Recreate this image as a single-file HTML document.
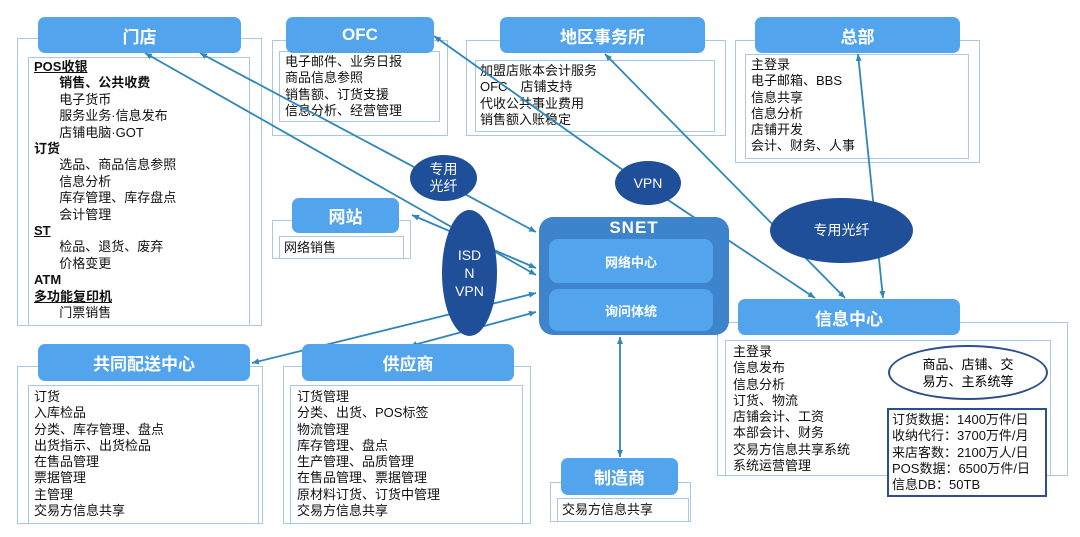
<!DOCTYPE html>
<html><head><meta charset="utf-8"><style>
body{margin:0;width:1080px;height:537px;background:#fff;position:relative;overflow:hidden;font-family:"Liberation Sans","Noto Sans CJK SC",sans-serif;}
.f{position:absolute;border:1.5px solid #a9c8e6;box-sizing:border-box;}
.h{position:absolute;background:#52a5ec;color:#fff;border-radius:7px;font-size:17px;font-weight:bold;display:flex;align-items:center;justify-content:center;}
.t{position:absolute;font-size:13px;line-height:16.3px;color:#111;white-space:nowrap;}
.e{position:absolute;background:#1f4f98;border-radius:50%;color:#fff;display:flex;align-items:center;justify-content:center;text-align:center;font-size:14px;line-height:17px;}
b{font-weight:bold}
u{text-decoration:underline}
</style></head><body>
<!-- frames -->
<div class="f" style="left:17px;top:38px;width:245px;height:288px"></div>
<div class="f" style="left:28px;top:57px;width:222px;height:269px"></div>
<div class="f" style="left:272px;top:40px;width:176px;height:96px"></div>
<div class="f" style="left:279px;top:51px;width:161px;height:71px"></div>
<div class="f" style="left:466px;top:40px;width:260px;height:96px"></div>
<div class="f" style="left:475px;top:60px;width:240px;height:72px"></div>
<div class="f" style="left:735px;top:40px;width:245px;height:123px"></div>
<div class="f" style="left:745px;top:54px;width:224px;height:105px"></div>
<div class="f" style="left:272px;top:220px;width:139px;height:39px"></div>
<div class="f" style="left:279px;top:236px;width:125px;height:23px"></div>
<div class="f" style="left:717px;top:322px;width:351px;height:154px"></div>
<div class="f" style="left:725px;top:340px;width:326px;height:136px"></div>
<div class="f" style="left:17px;top:366px;width:246px;height:158px"></div>
<div class="f" style="left:28px;top:385px;width:231px;height:139px"></div>
<div class="f" style="left:283px;top:366px;width:248px;height:158px"></div>
<div class="f" style="left:290px;top:385px;width:233px;height:139px"></div>
<div class="f" style="left:550px;top:482px;width:141px;height:40px"></div>
<div class="f" style="left:557px;top:498px;width:132px;height:24px"></div>

<div class="t" style="left:34px;top:59px;line-height:16.4px"><b><u>POS收银</u></b><br>&nbsp;&nbsp;&nbsp;&nbsp;&nbsp;&nbsp;&nbsp;<b>销售、公共收费</b><br>&nbsp;&nbsp;&nbsp;&nbsp;&nbsp;&nbsp;&nbsp;电子货币<br>&nbsp;&nbsp;&nbsp;&nbsp;&nbsp;&nbsp;&nbsp;服务业务·信息发布<br>&nbsp;&nbsp;&nbsp;&nbsp;&nbsp;&nbsp;&nbsp;店铺电脑·GOT<br><b>订货</b><br>&nbsp;&nbsp;&nbsp;&nbsp;&nbsp;&nbsp;&nbsp;选品、商品信息参照<br>&nbsp;&nbsp;&nbsp;&nbsp;&nbsp;&nbsp;&nbsp;信息分析<br>&nbsp;&nbsp;&nbsp;&nbsp;&nbsp;&nbsp;&nbsp;库存管理、库存盘点<br>&nbsp;&nbsp;&nbsp;&nbsp;&nbsp;&nbsp;&nbsp;会计管理<br><b><u>ST</u></b><br>&nbsp;&nbsp;&nbsp;&nbsp;&nbsp;&nbsp;&nbsp;检品、退货、废弃<br>&nbsp;&nbsp;&nbsp;&nbsp;&nbsp;&nbsp;&nbsp;价格变更<br><b>ATM</b><br><b><u>多功能复印机</u></b><br>&nbsp;&nbsp;&nbsp;&nbsp;&nbsp;&nbsp;&nbsp;门票销售</div>
<div class="t" style="left:285px;top:54px">电子邮件、业务日报<br>商品信息参照<br>销售额、订货支援<br>信息分析、经营管理</div>
<div class="t" style="left:480px;top:63px">加盟店账本会计服务<br>OFC、店铺支持<br>代收公共事业费用<br>销售额入账稳定</div>
<div class="t" style="left:751px;top:57px">主登录<br>电子邮箱、BBS<br>信息共享<br>信息分析<br>店铺开发<br>会计、财务、人事</div>
<div class="t" style="left:284px;top:240px">网络销售</div>
<div class="t" style="left:733px;top:344px">主登录<br>信息发布<br>信息分析<br>订货、物流<br>店铺会计、工资<br>本部会计、财务<br>交易方信息共享系统<br>系统运营管理</div>
<div class="t" style="left:34px;top:389px">订货<br>入库检品<br>分类、库存管理、盘点<br>出货指示、出货检品<br>在售品管理<br>票据管理<br>主管理<br>交易方信息共享</div>
<div class="t" style="left:297px;top:389px">订货管理<br>分类、出货、POS标签<br>物流管理<br>库存管理、盘点<br>生产管理、品质管理<br>在售品管理、票据管理<br>原材料订货、订货中管理<br>交易方信息共享</div>
<div class="t" style="left:562px;top:502px">交易方信息共享</div>

<!-- lines -->
<svg style="position:absolute;left:0;top:0" width="1080" height="537">
<defs><marker id="a" markerUnits="userSpaceOnUse" markerWidth="8" markerHeight="8" refX="7" refY="3.5" orient="auto-start-reverse"><path d="M0,0.5 L7,3.5 L0,6.5z" fill="#2f86b8"/></marker></defs>
<g stroke="#2f86b8" stroke-width="1.8" fill="none" marker-end="url(#a)" marker-start="url(#a)">
<line x1="200" y1="53" x2="536" y2="232"/>
<line x1="145" y1="53" x2="536" y2="275"/>
<line x1="412" y1="215" x2="536" y2="268"/>
<line x1="252" y1="363" x2="536" y2="293"/>
<line x1="410" y1="346" x2="536" y2="312"/>
<polyline points="434,36 620,168 815,298"/>
<line x1="605" y1="54" x2="845" y2="298"/>
<line x1="858" y1="54" x2="883" y2="298"/>
<line x1="620" y1="337" x2="620" y2="457"/>
</g>
</svg>

<!-- headers -->
<div class="h" style="left:38px;top:17px;width:203px;height:36px">门店</div>
<div class="h" style="left:286px;top:17px;width:148px;height:36px">OFC</div>
<div class="h" style="left:500px;top:17px;width:205px;height:36px">地区事务所</div>
<div class="h" style="left:755px;top:17px;width:205px;height:36px">总部</div>
<div class="h" style="left:292px;top:198px;width:107px;height:35px">网站</div>
<div style="position:absolute;left:539px;top:217px;width:190px;height:118px;background:#3d84cc;border-radius:14px"></div>
<div style="position:absolute;left:539px;top:218px;width:190px;color:#fff;font-weight:bold;font-size:17px;text-align:center;letter-spacing:1px">SNET</div>
<div class="h" style="left:549px;top:239px;width:164px;height:44px;font-size:13px;border-radius:9px">网络中心</div>
<div class="h" style="left:549px;top:289px;width:164px;height:42px;font-size:13px;border-radius:9px">询问体统</div>
<div class="h" style="left:738px;top:299px;width:222px;height:36px">信息中心</div>
<div class="h" style="left:38px;top:344px;width:212px;height:37px">共同配送中心</div>
<div class="h" style="left:302px;top:344px;width:212px;height:37px">供应商</div>
<div class="h" style="left:561px;top:458px;width:117px;height:37px">制造商</div>

<div style="position:absolute;left:888px;top:345px;width:160px;height:55px;border:2px solid #2d4f8e;border-radius:50%;box-sizing:border-box;background:#fff;display:flex;align-items:center;justify-content:center;text-align:center;font-size:13px;line-height:17px">商品、店铺、交<br>易方、主系统等</div>
<div style="position:absolute;left:887px;top:408px;width:160px;height:89px;border:2px solid #2d4f8e;box-sizing:border-box;background:#fff"></div>
<div class="t" style="left:892px;top:412px;line-height:16.3px">订货数据：1400万件/日<br>收纳代行：3700万件/月<br>来店客数：2100万人/日<br>POS数据：6500万件/日<br>信息DB：50TB</div>

<div class="e" style="left:410px;top:155px;width:67px;height:46px">专用<br>光纤</div>
<div class="e" style="left:442px;top:210px;width:55px;height:126px;line-height:18px">ISD<br>N<br>VPN</div>
<div class="e" style="left:615px;top:161px;width:66px;height:44px">VPN</div>
<div class="e" style="left:770px;top:198px;width:143px;height:65px">专用光纤</div>
</body></html>
